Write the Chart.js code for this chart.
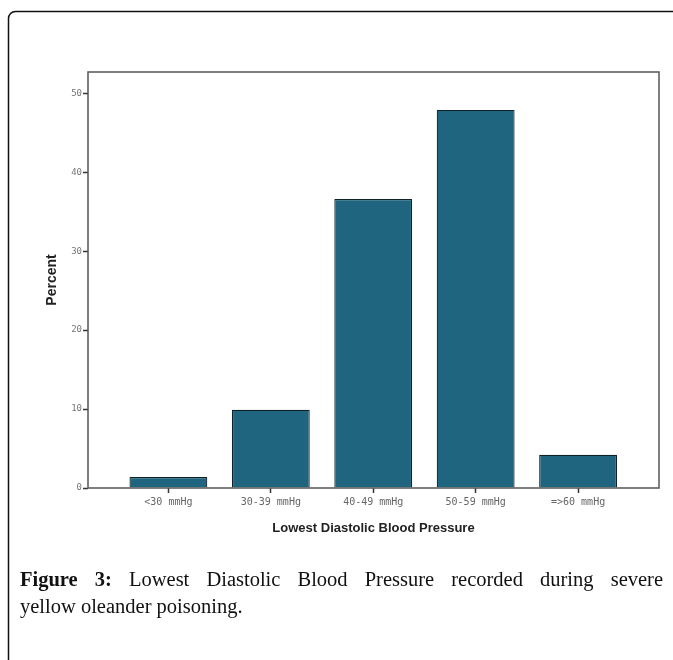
<!DOCTYPE html>
<html>
<head>
<meta charset="utf-8">
<script src="https://cdn.jsdelivr.net/npm/chart.js@4.4.1/dist/chart.umd.min.js"></script>
<style>
  html, body { margin: 0; padding: 0; background: #fff; }
  #wrap { position: relative; width: 673px; height: 660px; overflow: hidden; }
  #chart { position: absolute; left: 0; top: 0; }
  #caption {
    position: absolute; left: 20px; top: 566px; width: 643px;
    font-family: "Liberation Serif", "DejaVu Serif", serif; font-size: 20.5px;
    line-height: 27px; color: #111;
  }
  #caption .l1 { text-align: justify; text-align-last: justify; white-space: nowrap; }
  #caption b { font-weight: bold; }
</style>
</head>
<body>
<div id="wrap">
  <canvas id="chart" width="673" height="660"></canvas>
  <div id="caption">
    <div class="l1"><b>Figure 3:</b> Lowest Diastolic Blood Pressure recorded during severe</div>
    <div>yellow oleander poisoning.</div>
  </div>
</div>
<script>
const categories = ['<30 mmHg', '30-39 mmHg', '40-49 mmHg', '50-59 mmHg', '=>60 mmHg'];
const percents = [1.4, 9.9, 36.6, 47.9, 4.2];
const yTicks = [0, 10, 20, 30, 40, 50];
const xTitle = 'Lowest Diastolic Blood Pressure';
const yTitle = 'Percent';

// frame, plot border and axis titles
const decor = {
  id: 'decor',
  afterDraw(chart) {
    const ctx = chart.ctx;
    const a = chart.chartArea;
    ctx.save();
    // outer rounded frame (runs off right / bottom)
    ctx.strokeStyle = '#111';
    ctx.lineWidth = 1.5;
    const r = 7;
    ctx.beginPath();
    ctx.moveTo(8.5, 700);
    ctx.lineTo(8.5, 11.5 + r);
    ctx.arcTo(8.5, 11.5, 8.5 + r, 11.5, r);
    ctx.lineTo(700, 11.5);
    ctx.stroke();
    // plot box
    ctx.strokeStyle = '#555';
    ctx.lineWidth = 1.5;
    ctx.strokeRect(a.left, a.top, a.right - a.left, a.bottom - a.top);
    // axis titles
    ctx.fillStyle = '#222';
    ctx.font = 'bold 13px "Liberation Sans", Arial, sans-serif';
    ctx.textAlign = 'center';
    ctx.textBaseline = 'middle';
    ctx.fillText(xTitle, (a.left + a.right) / 2, 528);
    ctx.translate(52, 280);
    ctx.rotate(-Math.PI / 2);
    ctx.font = 'bold 14px "Liberation Sans", Arial, sans-serif';
    ctx.fillText(yTitle, 0, 0);
    ctx.restore();
  }
};

new Chart(document.getElementById('chart').getContext('2d'), {
  type: 'bar',
  data: {
    datasets: [{
      data: percents.map((v, i) => ({ x: i, y: v })),
      backgroundColor: '#1f6580',
      borderColor: '#0e2229',
      borderWidth: 1.2,
      barPercentage: 0.76,
      categoryPercentage: 1
    }]
  },
  options: {
    responsive: false,
    animation: false,
    layout: { padding: { left: 0, top: 72, right: 14, bottom: 0 } },
    plugins: { legend: { display: false }, tooltip: { enabled: false } },
    scales: {
      x: {
        type: 'linear',
        offset: false,
        min: -0.785,
        max: 4.79,
        afterBuildTicks: s => { s.ticks = categories.map((c, i) => ({ value: i })); },
        afterFit: s => { s.height = 660 - 488; },
        border: { display: false },
        grid: { offset: false, drawOnChartArea: false, tickLength: 5, tickColor: '#333', tickWidth: 1.5 },
        ticks: {
          callback: v => categories[v],
          color: '#666',
          padding: 3,
          maxRotation: 0,
          autoSkip: false,
          font: { family: '"DejaVu Sans Mono", monospace', size: 10 }
        }
      },
      y: {
        min: 0,
        max: 52.7,
        afterBuildTicks: s => { s.ticks = yTicks.map(v => ({ value: v })); },
        afterFit: s => { s.width = 88; },
        border: { display: false },
        grid: { drawOnChartArea: false, tickLength: 5, tickColor: '#333', tickWidth: 1.5 },
        ticks: {
          color: '#777',
          padding: 1,
          font: { family: '"DejaVu Sans Mono", monospace', size: 9 }
        }
      }
    }
  },
  plugins: [decor]
});
</script>
</body>
</html>
